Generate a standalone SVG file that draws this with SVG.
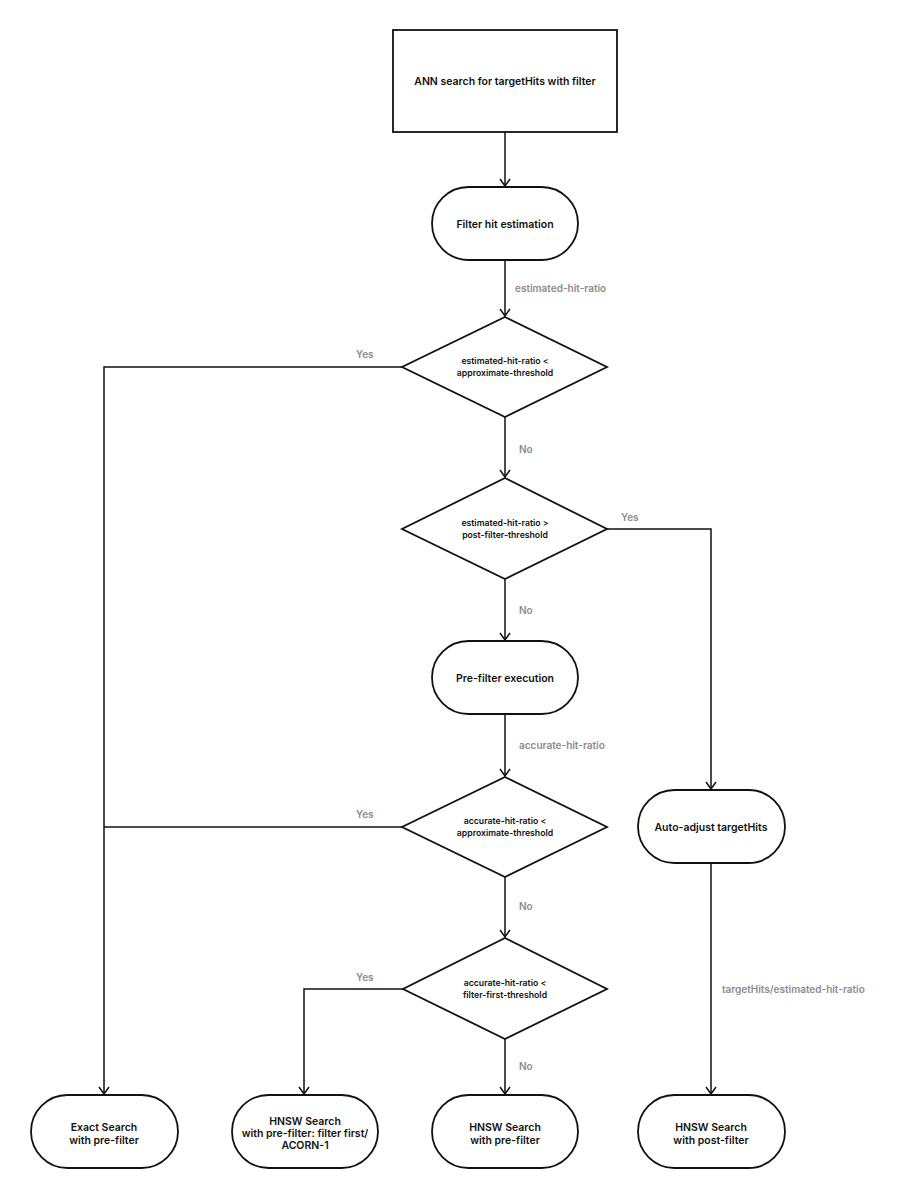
<svg xmlns="http://www.w3.org/2000/svg" width="904" height="1200" viewBox="0 0 904 1200">
<style>
.n{fill:#fff;stroke:#111;stroke-width:1.8}
.t{font-family:Inter,"Liberation Sans",sans-serif;font-weight:600;font-size:10.5px;fill:#111;text-anchor:middle}
.d{font-family:Inter,"Liberation Sans",sans-serif;font-weight:600;font-size:8.7px;fill:#111;text-anchor:middle}
.l{font-family:Inter,"Liberation Sans",sans-serif;font-weight:600;font-size:10px;fill:#8c8c8c}
.c{fill:none;stroke:#111;stroke-width:1.5}
</style>
<defs>
<marker id="a" markerWidth="12" markerHeight="12" refX="10" refY="6" orient="auto" markerUnits="userSpaceOnUse" viewBox="0 0 12 12">
<polyline points="3,1 10,6 3,11" fill="none" stroke="#111" stroke-width="1.5"/>
</marker>
</defs>
<rect width="904" height="1200" fill="#fff"/>
<g id="connectors">
<line class="c" x1="505" y1="132" x2="505" y2="186" marker-end="url(#a)"/>
<line class="c" x1="505" y1="260" x2="505" y2="316" marker-end="url(#a)"/>
<line class="c" x1="505" y1="417" x2="505" y2="477" marker-end="url(#a)"/>
<line class="c" x1="505" y1="579" x2="505" y2="640" marker-end="url(#a)"/>
<line class="c" x1="505" y1="714" x2="505" y2="776" marker-end="url(#a)"/>
<line class="c" x1="505" y1="877" x2="505" y2="937" marker-end="url(#a)"/>
<line class="c" x1="505" y1="1039" x2="505" y2="1094" marker-end="url(#a)"/>
<polyline class="c" points="402,367 104,367 104,1094" marker-end="url(#a)"/>
<line class="c" x1="402" y1="827" x2="104" y2="827"/>
<polyline class="c" points="607,529 711,529 711,789" marker-end="url(#a)"/>
<line class="c" x1="711" y1="863" x2="711" y2="1094" marker-end="url(#a)"/>
<polyline class="c" points="403,989 304,989 304,1094" marker-end="url(#a)"/>
<text class="l" x="515" y="292">estimated-hit-ratio</text>
<text class="l" x="356" y="358">Yes</text>
<text class="l" x="519" y="453">No</text>
<text class="l" x="621" y="521">Yes</text>
<text class="l" x="519" y="614">No</text>
<text class="l" x="519" y="749">accurate-hit-ratio</text>
<text class="l" x="356" y="818">Yes</text>
<text class="l" x="519" y="910">No</text>
<text class="l" x="356" y="981">Yes</text>
<text class="l" x="519" y="1070">No</text>
<text class="l" x="722" y="993">targetHits/estimated-hit-ratio</text>
</g>
<g id="start"><rect class="n" x="393" y="30" width="224" height="102"/><text class="t" x="505" y="85">ANN search for targetHits with filter</text></g>
<g id="estimate"><rect class="n" x="432" y="187" width="146" height="73" rx="36.5"/><text class="t" x="505" y="228">Filter hit estimation</text></g>
<g id="dec1"><polygon class="n" points="505,317 607,367 505,417 402,367"/><text class="d" x="505" y="364">estimated-hit-ratio &lt;</text><text class="d" x="505" y="376">approximate-threshold</text></g>
<g id="dec2"><polygon class="n" points="505,478 607,529 505,579 402,529"/><text class="d" x="505" y="526">estimated-hit-ratio &gt;</text><text class="d" x="505" y="538">post-filter-threshold</text></g>
<g id="prefilter"><rect class="n" x="432" y="641" width="146" height="73" rx="36.5"/><text class="t" x="505" y="682">Pre-filter execution</text></g>
<g id="dec3"><polygon class="n" points="505,777 607,827 505,877 402,827"/><text class="d" x="505" y="824">accurate-hit-ratio &lt;</text><text class="d" x="505" y="836">approximate-threshold</text></g>
<g id="dec4"><polygon class="n" points="505,938 607,989 505,1039 403,989"/><text class="d" x="505" y="986">accurate-hit-ratio &lt;</text><text class="d" x="505" y="998">filter-first-threshold</text></g>
<g id="autoadjust"><rect class="n" x="638" y="790" width="147" height="73" rx="36.5"/><text class="t" x="711" y="831">Auto-adjust targetHits</text></g>
<g id="exact"><rect class="n" x="31" y="1095" width="147" height="73" rx="36.5"/><text class="t" x="104" y="1131">Exact Search</text><text class="t" x="104" y="1144">with pre-filter</text></g>
<g id="hnswfirst"><rect class="n" x="232" y="1095" width="146" height="73" rx="36.5"/><text class="t" x="305" y="1125">HNSW Search</text><text class="t" x="305" y="1137">with pre-filter: filter first/</text><text class="t" x="305" y="1149">ACORN-1</text></g>
<g id="hnswpre"><rect class="n" x="432" y="1095" width="146" height="73" rx="36.5"/><text class="t" x="505" y="1131">HNSW Search</text><text class="t" x="505" y="1144">with pre-filter</text></g>
<g id="hnswpost"><rect class="n" x="638" y="1095" width="147" height="73" rx="36.5"/><text class="t" x="711" y="1131">HNSW Search</text><text class="t" x="711" y="1144">with post-filter</text></g>
</svg>
